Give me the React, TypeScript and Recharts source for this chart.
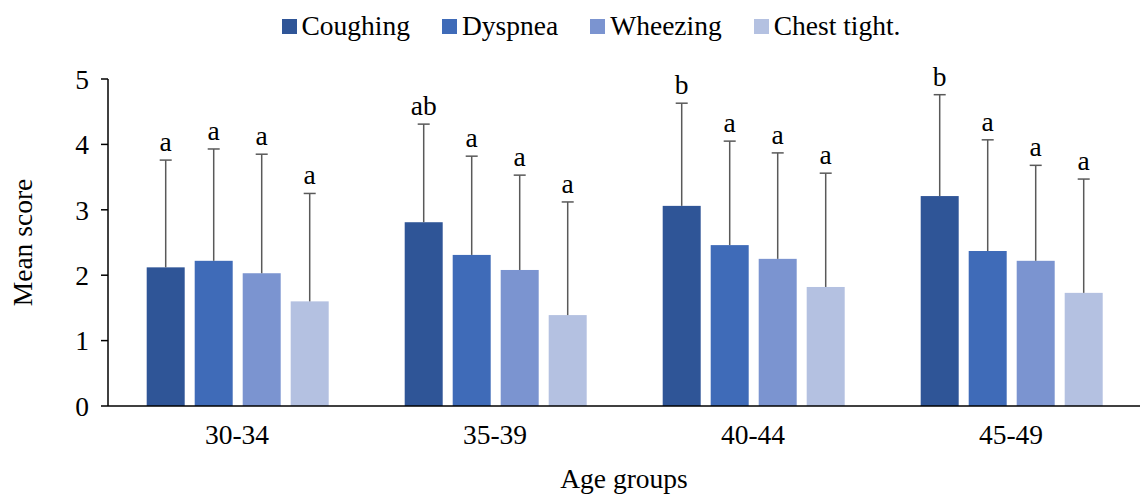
import React from "react";
import { BarChart, Bar, XAxis, YAxis } from "recharts";

const ageGroups = ["30-34", "35-39", "40-44", "45-49"];
const symptoms = ["Coughing", "Dyspnea", "Wheezing", "Chest tight."];
const colors = ["#2F5597", "#3F6BB8", "#7B94D0", "#B4C1E1"];

// mean scores per symptom, one value per age group
const coughing = [2.12, 2.81, 3.06, 3.21];
const dyspnea = [2.22, 2.31, 2.46, 2.37];
const wheezing = [2.03, 2.08, 2.25, 2.22];
const chestTight = [1.6, 1.39, 1.82, 1.73];

// standard deviations (upper whisker only)
const coughingSd = [1.64, 1.5, 1.57, 1.55];
const dyspneaSd = [1.71, 1.51, 1.59, 1.7];
const wheezingSd = [1.82, 1.45, 1.62, 1.46];
const chestTightSd = [1.65, 1.73, 1.74, 1.74];

// significance letters
const coughingSig = ["a", "ab", "b", "b"];
const dyspneaSig = ["a", "a", "a", "a"];
const wheezingSig = ["a", "a", "a", "a"];
const chestTightSig = ["a", "a", "a", "a"];

const keys = ["cough", "dysp", "whee", "chest"];
const means = [coughing, dyspnea, wheezing, chestTight];
const sds = [coughingSd, dyspneaSd, wheezingSd, chestTightSd];
const sigs = [coughingSig, dyspneaSig, wheezingSig, chestTightSig];

const data = ageGroups.map((g, i) => {
  const row: any = { group: g };
  keys.forEach((k, j) => {
    row[k] = means[j][i];
    row[k + "Sd"] = sds[j][i];
    row[k + "Sig"] = sigs[j][i];
  });
  return row;
});

const FONT = "'Liberation Serif', 'Times New Roman', serif";
const FS = 27.5;

function makeShape(key: string) {
  return function BarWithError(props: any) {
    const { x, y, width, height, fill, payload } = props;
    const value = payload[key];
    const sd = payload[key + "Sd"];
    const pxPerUnit = height / value;
    const top = y - sd * pxPerUnit;
    const cx = x + width / 2;
    return (
      <g>
        <rect x={x} y={y} width={width} height={height} fill={fill} />
        <line x1={cx} x2={cx} y1={y} y2={top} stroke="#595959" strokeWidth={1.5} />
        <line x1={cx - 6} x2={cx + 6} y1={top} y2={top} stroke="#595959" strokeWidth={1.5} />
        <text x={cx} y={top - 9} textAnchor="middle" fontFamily={FONT} fontSize={FS} fill="#000">
          {payload[key + "Sig"]}
        </text>
      </g>
    );
  };
}

function TopLegend() {
  return (
    <div
      style={{
        position: "absolute",
        top: 8,
        left: 40,
        width: 1102,
        display: "flex",
        justifyContent: "center",
        fontFamily: FONT,
        fontSize: FS,
        lineHeight: "36px",
        color: "#000",
      }}
    >
      {symptoms.map((s, i) => (
        <div key={s} style={{ display: "flex", alignItems: "center", marginRight: i < 3 ? 32 : 0 }}>
          <span style={{ width: 15, height: 15, background: colors[i], marginRight: 5, display: "inline-block" }} />
          <span>{s}</span>
        </div>
      ))}
    </div>
  );
}

export default function App() {
  return (
    <div style={{ position: "absolute", left: 0, top: 0, width: 1142, height: 496, background: "#fff" }}>
      <TopLegend />
      <BarChart
        width={1142}
        height={496}
        data={data}
        margin={{ top: 79, right: 2, left: 0, bottom: 0 }}
        barCategoryGap="15%"
        barGap={10}
      >
        <XAxis
          dataKey="group"
          height={90}
          tickLine={false}
          axisLine={{ stroke: "#000", strokeWidth: 1.5 }}
          tickMargin={12}
          tick={{ fill: "#000", fontFamily: FONT, fontSize: FS }}
          label={{ value: "Age groups", position: "insideBottom", offset: 8, fill: "#000", fontFamily: FONT, fontSize: FS }}
        />
        <YAxis
          domain={[0, 5]}
          ticks={[0, 1, 2, 3, 4, 5]}
          width={108}
          tickSize={7}
          tickMargin={12}
          axisLine={{ stroke: "#000", strokeWidth: 1.5 }}
          tickLine={{ stroke: "#000", strokeWidth: 1.5 }}
          tick={{ fill: "#000", fontFamily: FONT, fontSize: FS }}
          label={{ value: "Mean score", angle: -90, position: "insideLeft", offset: 22, fill: "#000", fontFamily: FONT, fontSize: FS, style: { textAnchor: "middle" } }}
        />
        {keys.map((k, j) => (
          <Bar key={k} dataKey={k} name={symptoms[j]} fill={colors[j]} isAnimationActive={false} shape={makeShape(k)} />
        ))}
      </BarChart>
    </div>
  );
}
